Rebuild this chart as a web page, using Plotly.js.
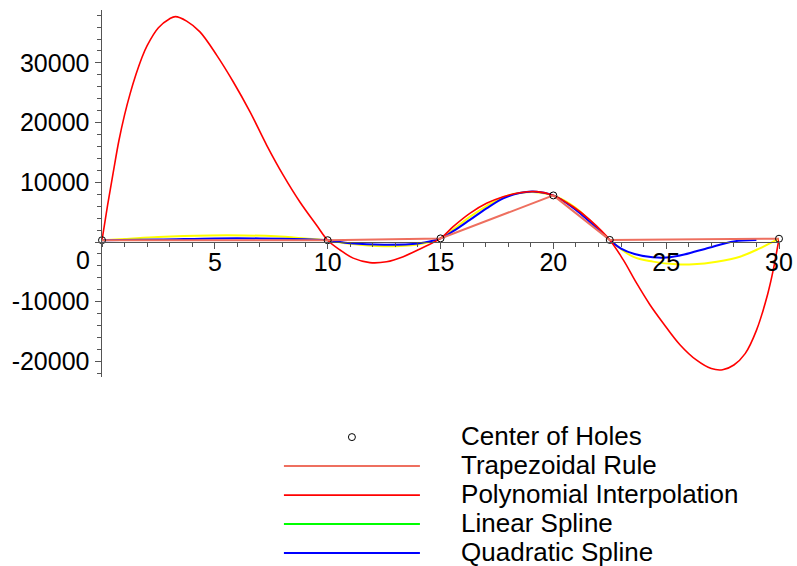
<!DOCTYPE html>
<html><head><meta charset="utf-8">
<script src="https://cdn.plot.ly/plotly-3.0.1.min.js"></script>
<style>html,body{margin:0;padding:0;background:#fff;} #chart{width:797px;height:566px;}</style>
</head><body><div id="chart"></div>
<script>
// ---- data ----
const holeX = [0, 10, 15, 20, 22.5, 30];
const holeY = [300, 300, 600, 7800, 350, 550];

const polyX = [0, 0.25, 0.5, 0.75, 1, 1.25, 1.5, 1.75, 2, 2.5, 3, 3.25, 3.75, 4.34, 5.08, 5.82, 6.56, 7.3, 8.03, 8.77, 9.51, 10,
  10.55, 11.13, 11.87, 12.61, 13.35, 14.09, 15, 15.56, 16.3, 17.04, 17.78, 18.52, 19.26, 20,
  20.88, 21.62, 22.5, 23.1, 23.69, 24.28, 24.87, 25.61, 26.35, 27, 27.5, 28, 28.5, 29, 29.5, 29.75, 30];
const polyY = [300, 6200, 11700, 17000, 21300, 24900, 28000, 30700, 32900, 35900, 37400, 37750, 37000, 35200, 31300, 26800, 21800, 16200, 11200, 6700, 2800, 300,
  -1340, -2700, -3450, -3300, -2450, -1170, 600, 2570, 4800, 6480, 7590, 8260, 8430, 7800,
  5900, 3700, 350, -3000, -6900, -10500, -13600, -17200, -19800, -21200, -21400, -20600, -18700, -14800, -8700, -4600, 550];

const linX = [0, 1, 2.5, 4.8, 6.3, 7.7, 9, 10, 11, 12.5, 14, 15, 15.6, 16.3, 17.04, 17.78, 18.5, 19.2, 20, 21, 22.5,
  23.53, 24.42, 25.46, 26.2, 27.24, 28.27, 29.15, 30];
const linY = [300, 500, 850, 1100, 1100, 950, 600, 300, -300, -700, -400, 600, 2200, 4200, 6000, 7500, 8200, 8350, 7800, 5700, 350,
  -2460, -3290, -3740, -3740, -3290, -2460, -1060, 550];

const quadX = [0, 2.5, 5, 7, 9, 10, 11, 12.5, 14, 15, 15.6, 16.3, 17.04, 17.78, 18.5, 19.1, 20, 21, 22.5,
  23, 23.6, 24.4, 25, 25.8, 26.9, 28, 29];
const quadY = [300, 400, 600, 600, 450, 300, -200, -450, -250, 600, 1900, 3700, 5640, 7320, 8200, 8450, 7800, 5360, 350,
  -1100, -2000, -2550, -2600, -2100, -950, 100, 330];

const seriesNames = ['Center of Holes', 'Trapezoidal Rule', 'Polynomial Interpolation', 'Linear Spline', 'Quadratic Spline'];
const xTickVals = [5, 10, 15, 20, 25, 30];
const xTickText = ['5', '10', '15', '20', '25', '30'];
const yTickVals = [-20000, -10000, 0, 10000, 20000, 30000];
const yTickText = ['-20000', '-10000', '', '10000', '20000', '30000'];

// ---- layout ----
const Y_MIN = -22613, Y_MAX = 38861;
const xAxisPos = (0 - Y_MIN) / (Y_MAX - Y_MIN);
const FONT = 'Liberation Sans, Arial, Helvetica, sans-serif';
const AX = '#555555';
const lbl = s => '<span style="font-size:26px">\u00a0\u00a0\u00a0\u00a0\u00a0' + s + '</span>';

const traces = [
  {x: linX, y: linY, mode: 'lines', line: {color: '#FFFF00', width: 2, shape: 'spline', smoothing: 1}, showlegend: false, hoverinfo: 'skip'},
  {x: quadX, y: quadY, mode: 'lines', name: lbl(seriesNames[4]), legendrank: 5, line: {color: '#0000FF', width: 2, shape: 'spline', smoothing: 1}},
  {x: polyX, y: polyY, mode: 'lines', name: lbl(seriesNames[2]), legendrank: 3, line: {color: '#FF0000', width: 1.6, shape: 'spline', smoothing: 1}},
  {x: holeX, y: holeY, mode: 'lines', name: lbl(seriesNames[1]), legendrank: 2, line: {color: '#EE6F5F', width: 2}},
  {x: [null], y: [null], mode: 'lines', name: lbl(seriesNames[3]), legendrank: 4, line: {color: '#00FF00', width: 2}},
  {x: holeX, y: holeY, mode: 'markers', name: lbl(seriesNames[0]), legendrank: 1, cliponaxis: false,
   marker: {symbol: 'circle-open', size: 7, color: '#000000', line: {width: 1, color: '#000000'}}}
];

const layout = {
  width: 797, height: 566,
  margin: {l: 102, r: 18, t: 10, b: 189, autoexpand: false},
  paper_bgcolor: '#ffffff', plot_bgcolor: '#ffffff',
  font: {family: FONT, color: '#000000', size: 25},
  showlegend: true,
  legend: {x: (279 - 102) / 677.3, y: (377 - 417.6) / 367, xanchor: 'left', yanchor: 'top',
    itemwidth: 136, font: {family: FONT, size: 20, color: '#000'}, bgcolor: 'rgba(0,0,0,0)', borderwidth: 0},
  xaxis: {range: [0, 30], anchor: 'free', position: xAxisPos, showline: true, linecolor: AX, linewidth: 1,
    ticks: 'outside', ticklen: 6, tickcolor: AX, tickwidth: 1, tickmode: 'array', tickvals: xTickVals, ticktext: xTickText,
    ticklabelstandoff: -8,
    minor: {tickmode: 'linear', tick0: 0, dtick: 1, ticks: 'outside', ticklen: 4, tickcolor: AX, tickwidth: 1, showgrid: false},
    showgrid: false, zeroline: false, tickfont: {family: FONT, size: 25, color: '#000'}, fixedrange: true, automargin: false},
  yaxis: {range: [Y_MIN, Y_MAX], showline: true, linecolor: AX, linewidth: 1.5,
    ticks: 'outside', ticklen: 6, tickcolor: AX, tickwidth: 1, tickmode: 'array', tickvals: yTickVals, ticktext: yTickText,
    minor: {tickmode: 'linear', tick0: 0, dtick: 2000, ticks: 'outside', ticklen: 4, tickcolor: AX, tickwidth: 1, showgrid: false},
    showgrid: false, zeroline: false, tickfont: {family: FONT, size: 25, color: '#000'}, fixedrange: true, automargin: false},
  annotations: [
    {xref: 'paper', yref: 'y', x: 0, y: 0, text: '0', showarrow: false, xanchor: 'right', yanchor: 'middle',
     xshift: -10, yshift: -18, font: {family: FONT, size: 25, color: '#000'}}
  ]
};

Plotly.newPlot('chart', traces, layout, {staticPlot: true, displayModeBar: false});
</script>
</body></html>
